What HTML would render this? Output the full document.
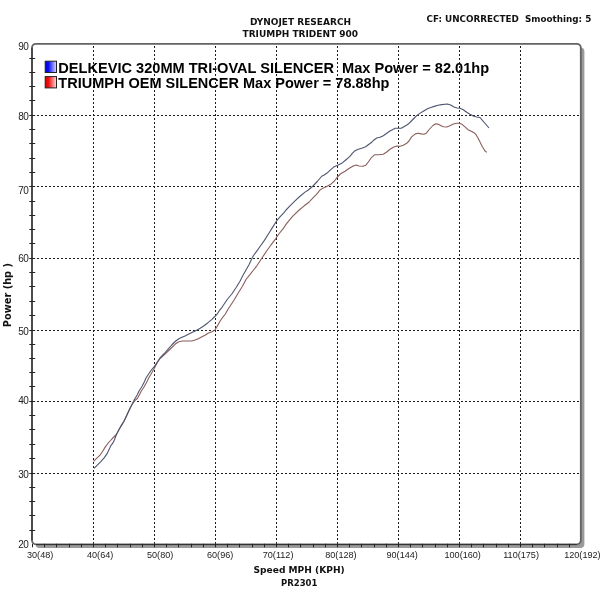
<!DOCTYPE html>
<html><head><meta charset="utf-8"><title>Dynojet Research - Triumph Trident 900</title>
<style>
html,body{margin:0;padding:0;background:#fff;width:600px;height:600px;overflow:hidden}
svg{display:block}
.t{font-family:"DejaVu Sans",Verdana,sans-serif;font-weight:bold;fill:#111}
.n{font-family:"Liberation Sans",Arial,sans-serif;fill:#222}
.lg{font-family:"Liberation Sans",Arial,sans-serif;font-weight:bold;fill:#000}
</style></head><body>
<svg width="600" height="600" viewBox="0 0 600 600">
<defs>
<linearGradient id="gb" x1="0" x2="1" y1="0" y2="0"><stop offset="0" stop-color="#0000d8"/><stop offset="0.3" stop-color="#0a10f0"/><stop offset="1" stop-color="#dcdcff"/></linearGradient>
<linearGradient id="gr" x1="0" x2="1" y1="0" y2="0"><stop offset="0" stop-color="#d80000"/><stop offset="0.3" stop-color="#f01010"/><stop offset="1" stop-color="#ffdcdc"/></linearGradient>
</defs>

<rect x="35.6" y="47.599999999999994" width="548.8" height="500.49999999999994" rx="4" fill="#9a9a9a"/>
<rect x="32.0" y="43.8" width="548.8" height="500.49999999999994" rx="4" fill="#fff"/>
<path d="M93.5 46V544.3 M154.5 46V544.3 M215.5 46V544.3 M276.5 46V544.3 M337.5 46V544.3 M398.5 46V544.3 M459.5 46V544.3 M520.5 46V544.3 M33.0 473.5H580.8 M33.0 401.5H580.8 M33.0 330.5H580.8 M33.0 258.5H580.8 M33.0 186.5H580.8 M33.0 115.5H580.8" stroke="#1a1a1a" stroke-width="1" stroke-dasharray="2 2" fill="none"/>
<polyline points="93.60,461.30 96.30,458.70 100.00,455.20 102.70,451.20 105.30,446.90 108.00,443.20 110.50,440.50 113.30,437.50 116.40,434.50 119.20,429.20 122.00,424.40 124.00,421.20 126.80,415.20 129.20,410.00 131.20,406.00 133.50,402.50 135.50,400.00 137.30,398.50 139.30,395.00 141.30,391.00 144.00,387.00 147.30,381.00 148.70,378.00 150.80,374.50 153.30,370.00 155.30,366.50 157.50,362.20 160.30,358.30 165.00,354.00 170.30,349.00 175.00,344.30 178.30,342.00 182.30,341.00 187.70,341.00 191.70,341.00 194.30,340.30 198.30,338.70 202.00,336.80 205.00,335.30 208.00,333.30 212.00,331.70 215.00,330.00 217.30,326.00 220.00,321.30 222.70,317.30 225.30,314.00 228.00,309.30 230.70,305.30 234.40,299.50 238.50,292.50 242.30,286.50 246.00,279.50 250.50,273.80 253.50,270.00 256.50,266.30 259.50,261.80 262.60,257.00 266.80,250.80 270.80,245.20 275.60,238.80 278.80,234.00 282.80,229.20 286.00,224.40 289.20,220.40 292.80,216.20 299.20,210.00 304.20,205.80 309.20,202.00 312.50,198.30 316.70,194.20 320.00,190.00 323.30,187.90 326.70,186.50 330.80,184.20 334.20,181.25 337.00,177.50 340.30,174.00 345.00,171.30 349.70,168.00 353.70,165.70 356.30,165.00 359.00,166.00 363.00,166.30 365.70,165.30 368.30,162.00 371.70,157.30 374.70,154.70 378.70,154.70 383.30,154.30 386.70,152.00 390.00,149.30 393.30,147.30 396.70,146.00 400.00,146.30 403.30,145.30 406.70,143.30 409.00,141.00 411.60,136.90 415.30,133.90 418.20,133.20 421.10,133.90 424.10,134.30 426.30,133.20 429.20,129.50 432.90,125.50 435.80,123.70 438.70,124.40 441.70,125.90 443.30,126.70 446.70,127.00 450.00,125.70 453.30,124.00 456.70,123.20 459.30,123.20 462.00,124.30 464.70,126.70 468.00,129.70 471.30,131.30 474.00,132.70 476.00,134.70 478.00,138.00 480.00,142.00 482.40,146.80 484.80,150.80 486.80,152.40" fill="none" stroke="#8a5e5a" stroke-width="1.1" stroke-linejoin="round"/>
<polyline points="94.00,468.30 97.30,465.10 101.10,461.30 104.30,457.60 106.90,453.90 109.10,449.60 110.70,445.90 112.80,443.20 114.40,440.00 116.40,434.50 119.20,429.20 122.00,424.40 124.00,421.20 126.80,415.20 129.20,410.00 131.20,406.00 132.80,402.80 134.70,399.00 137.20,395.00 139.00,391.00 141.70,387.00 144.50,381.50 146.00,378.00 148.30,374.50 151.30,370.00 154.50,366.30 157.30,362.00 160.00,358.00 164.30,353.50 167.70,349.70 171.70,345.00 175.70,341.00 179.70,338.30 185.00,336.00 190.30,333.30 195.70,330.70 200.20,328.20 204.00,325.70 208.00,322.70 212.00,319.30 214.30,317.00 216.70,314.70 219.30,310.70 222.00,307.30 224.70,303.30 227.20,299.50 231.80,294.00 236.30,287.30 240.00,281.30 243.00,275.30 246.00,270.00 249.00,264.80 251.80,258.80 253.50,255.50 256.40,251.60 260.40,246.00 264.40,240.40 268.40,234.00 272.40,227.60 276.40,221.20 280.40,216.40 283.60,213.20 286.00,210.00 290.00,205.80 295.00,200.80 300.00,196.25 305.00,192.10 308.30,190.00 312.50,186.50 317.50,181.25 321.70,176.25 324.20,175.00 326.70,173.30 330.80,169.60 334.20,166.70 337.70,165.30 341.70,163.30 345.70,160.00 349.70,156.70 352.30,153.30 355.00,150.70 358.30,149.30 361.70,148.30 365.70,146.70 368.30,144.70 371.70,142.30 373.30,140.50 376.70,138.00 380.00,137.30 383.30,135.70 386.70,133.30 390.00,131.00 393.30,129.30 395.30,128.30 398.00,128.30 401.30,128.30 404.70,126.30 408.00,124.30 410.90,121.50 413.80,118.50 416.70,115.60 419.70,113.40 423.30,111.20 427.00,109.00 430.70,107.50 434.30,106.40 438.00,105.30 441.70,104.60 445.00,104.20 447.30,104.00 450.70,105.00 454.00,107.00 457.30,108.00 460.00,108.30 463.30,109.70 466.70,112.30 470.00,114.20 473.30,116.00 476.70,117.00 480.00,117.50 482.40,120.40 485.60,124.00 489.00,128.00" fill="none" stroke="#4e5570" stroke-width="1.1" stroke-linejoin="round"/>
<rect x="32.0" y="43.8" width="548.8" height="500.49999999999994" rx="4" fill="none" stroke="#636363" stroke-width="1.8"/>
<path d="M32.0 47.8V540.3" stroke="#484848" stroke-width="1.8" fill="none"/>
<path d="M36.0 544.5H576.8" stroke="#333" stroke-width="1" fill="none"/>
<path d="M29.3 530.5H35.2 M29.3 515.5H35.2 M29.3 501.5H35.2 M29.3 487.5H35.2 M29.3 473.5H35.2 M29.3 458.5H35.2 M29.3 444.5H35.2 M29.3 429.5H35.2 M29.3 415.5H35.2 M29.3 401.5H35.2 M29.3 386.5H35.2 M29.3 372.5H35.2 M29.3 358.5H35.2 M29.3 344.5H35.2 M29.3 330.5H35.2 M29.3 315.5H35.2 M29.3 301.5H35.2 M29.3 286.5H35.2 M29.3 272.5H35.2 M29.3 258.5H35.2 M29.3 243.5H35.2 M29.3 229.5H35.2 M29.3 215.5H35.2 M29.3 201.5H35.2 M29.3 186.5H35.2 M29.3 172.5H35.2 M29.3 158.5H35.2 M29.3 143.5H35.2 M29.3 129.5H35.2 M29.3 115.5H35.2 M29.3 100.5H35.2 M29.3 86.5H35.2 M29.3 72.5H35.2 M29.3 58.5H35.2 M32.5 543.8V547.3 M44.5 543.8V547.3 M56.5 543.8V547.3 M69.5 543.8V547.3 M81.5 543.8V547.3 M93.5 543.8V547.3 M105.5 543.8V547.3 M117.5 543.8V547.3 M130.5 543.8V547.3 M142.5 543.8V547.3 M154.5 543.8V547.3 M166.5 543.8V547.3 M178.5 543.8V547.3 M191.5 543.8V547.3 M203.5 543.8V547.3 M215.5 543.8V547.3 M227.5 543.8V547.3 M239.5 543.8V547.3 M252.5 543.8V547.3 M264.5 543.8V547.3 M276.5 543.8V547.3 M288.5 543.8V547.3 M300.5 543.8V547.3 M313.5 543.8V547.3 M325.5 543.8V547.3 M337.5 543.8V547.3 M349.5 543.8V547.3 M361.5 543.8V547.3 M374.5 543.8V547.3 M386.5 543.8V547.3 M398.5 543.8V547.3 M410.5 543.8V547.3 M422.5 543.8V547.3 M435.5 543.8V547.3 M447.5 543.8V547.3 M459.5 543.8V547.3 M471.5 543.8V547.3 M483.5 543.8V547.3 M496.5 543.8V547.3 M508.5 543.8V547.3 M520.5 543.8V547.3 M532.5 543.8V547.3 M544.5 543.8V547.3 M557.5 543.8V547.3 M569.5 543.8V547.3" stroke="#222" stroke-width="1" fill="none"/>
<text class="t" x="250" y="24.7" font-size="9">DYNOJET RESEARCH</text>
<text class="t" x="242.5" y="37.2" font-size="9">TRIUMPH TRIDENT 900</text>
<text class="t" x="426.5" y="22" font-size="8.8" xml:space="preserve">CF: UNCORRECTED  Smoothing: 5</text>
<text class="t" x="253.5" y="573.1" font-size="9.1">Speed MPH (KPH)</text>
<text class="t" x="281" y="585.9" font-size="8.5">PR2301</text>
<text class="t" transform="translate(11,327.2) rotate(-90)" font-size="9.8">Power (hp )</text>
<text class="n" x="28.3" y="548.3" font-size="10" letter-spacing="-0.6" text-anchor="end">20</text>
<text class="n" x="28.3" y="478.2" font-size="10" letter-spacing="-0.6" text-anchor="end">30</text>
<text class="n" x="28.3" y="404.3" font-size="10" letter-spacing="-0.6" text-anchor="end">40</text>
<text class="n" x="28.3" y="335.0" font-size="10" letter-spacing="-0.6" text-anchor="end">50</text>
<text class="n" x="28.3" y="262.1" font-size="10" letter-spacing="-0.6" text-anchor="end">60</text>
<text class="n" x="28.3" y="193.8" font-size="10" letter-spacing="-0.6" text-anchor="end">70</text>
<text class="n" x="28.3" y="119.5" font-size="10" letter-spacing="-0.6" text-anchor="end">80</text>
<text class="n" x="28.3" y="50.0" font-size="10" letter-spacing="-0.6" text-anchor="end">90</text>
<text class="n" x="27.0" y="558.1" font-size="9.1">30(48)</text>
<text class="n" x="87.0" y="558.1" font-size="9.1">40(64)</text>
<text class="n" x="147.0" y="558.1" font-size="9.1">50(80)</text>
<text class="n" x="207.0" y="558.1" font-size="9.1">60(96)</text>
<text class="n" x="262.75" y="558.1" font-size="9.1">70(112)</text>
<text class="n" x="325.25" y="558.1" font-size="9.1">80(128)</text>
<text class="n" x="386.5" y="558.1" font-size="9.1">90(144)</text>
<text class="n" x="444.5" y="558.1" font-size="9.1">100(160)</text>
<text class="n" x="503.2" y="558.1" font-size="9.1">110(175)</text>
<text class="n" x="564.2" y="558.1" font-size="9.1">120(192)</text>
<rect x="45.2" y="61.2" width="11.3" height="11.3" fill="url(#gb)" stroke="#222" stroke-width="1"/>
<rect x="45.2" y="76.6" width="11.3" height="11.3" fill="url(#gr)" stroke="#222" stroke-width="1"/>
<text class="lg" x="58.3" y="72.8" font-size="14.58" xml:space="preserve">DELKEVIC 320MM TRI-OVAL SILENCER  Max Power = 82.01hp</text>
<text class="lg" x="58.3" y="87.8" font-size="14.52">TRIUMPH OEM SILENCER Max Power = 78.88hp</text>
</svg>
</body></html>
